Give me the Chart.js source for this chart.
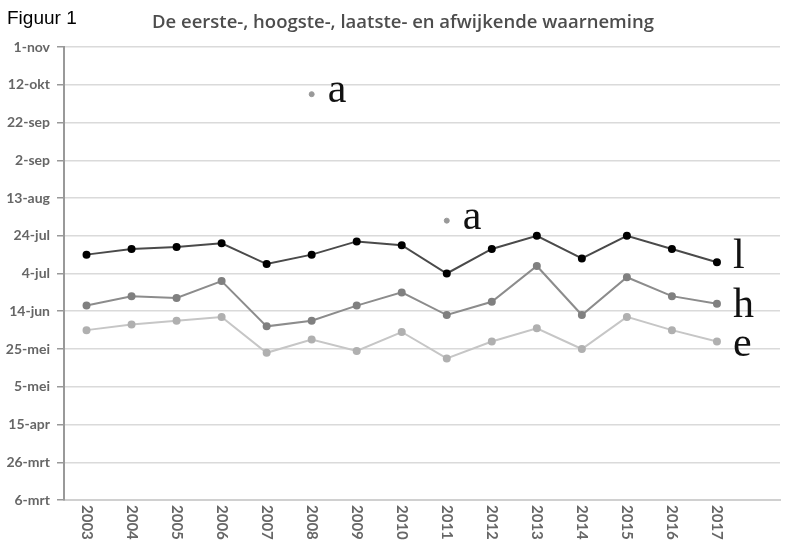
<!DOCTYPE html>
<html>
<head>
<meta charset="utf-8">
<script src="https://cdn.jsdelivr.net/npm/chart.js@4.4.1/dist/chart.umd.min.js"></script>
<style>
  html, body { margin: 0; padding: 0; background: #fff; }
  #wrap { width: 786px; height: 546px; position: relative; }
</style>
</head>
<body>
<div id="wrap"><canvas id="chart"></canvas></div>
<script>
// jaren en waarnemingen (dag van het jaar)
var years = [2003, 2004, 2005, 2006, 2007, 2008, 2009, 2010, 2011, 2012, 2013, 2014, 2015, 2016, 2017];
var laatste = [195, 198, 199, 201, 190, 195, 202, 200, 185, 198, 205, 193, 205, 198, 191];
var hoogste = [168, 173, 172, 181, 157, 160, 168, 175, 163, 170, 189, 163, 183, 173, 169];
var eerste  = [155, 158, 160, 162, 143, 150, 144, 154, 140, 149, 156, 145, 162, 155, 149];
var afwijkendJaren = [2008, 2011];
var afwijkend = [280, 213];

// y-as: dag 65 (6-mrt) t/m 305 (1-nov), stap 20
var yTickLabels = ['6-mrt', '26-mrt', '15-apr', '5-mei', '25-mei', '14-jun', '4-jul',
                   '24-jul', '13-aug', '2-sep', '22-sep', '12-okt', '1-nov'];

function pts(vals, xs) {
  return vals.map(function(v, i){ return {x: xs[i], y: v}; });
}

// tekst: titel, x-labels en letters bij de lijnen
var extras = {
  id: 'extras',
  afterDraw: function(chart) {
    var ctx = chart.ctx;
    var xs = chart.scales.x, area = chart.chartArea;
    ctx.save();
    ctx.fillStyle = '#000';
    ctx.font = '19px "Liberation Sans", Arial, sans-serif';
    ctx.textAlign = 'left';
    ctx.textBaseline = 'alphabetic';
    ctx.fillText('Figuur 1', 7, 24);

    ctx.fillStyle = '#4d4d4d';
    ctx.font = '600 18.5px "Open Sans", sans-serif';
    ctx.fillText('De eerste-, hoogste-, laatste- en afwijkende waarneming', 152, 28);

    // jaartallen, met de klok mee gedraaid
    ctx.fillStyle = '#666';
    ctx.font = 'bold 15px Lato, sans-serif';
    ctx.textBaseline = 'middle';
    years.forEach(function(y){
      ctx.save();
      ctx.translate(xs.getPixelForValue(y), area.bottom + 5);
      ctx.rotate(Math.PI / 2);
      ctx.fillText(String(y), 0, 0);
      ctx.restore();
    });

    // letters rechts naast de punten
    ctx.fillStyle = '#111';
    ctx.font = '42px "Liberation Serif", "Times New Roman", serif';
    ctx.textBaseline = 'alphabetic';
    chart.data.datasets.forEach(function(ds, di){
      if (!ds.tags) return;
      var meta = chart.getDatasetMeta(di);
      ds.tags.forEach(function(t){
        var idx = t.index < 0 ? meta.data.length - 1 : t.index;
        var p = meta.data[idx];
        ctx.fillText(t.text, p.x + 16, p.y + t.dy);
      });
    });
    ctx.restore();
  }
};

new Chart(document.getElementById('chart'), {
  type: 'line',
  data: {
    datasets: [
      {
        label: 'laatste',
        data: pts(laatste, years),
        borderColor: '#4a4a4a', backgroundColor: '#000',
        pointBackgroundColor: '#000', pointBorderColor: '#000',
        borderWidth: 2, pointRadius: 3,
        tags: [{index: -1, text: 'l', dy: 6}]
      },
      {
        label: 'hoogste',
        data: pts(hoogste, years),
        borderColor: '#8c8c8c', backgroundColor: '#808080',
        pointBackgroundColor: '#808080', pointBorderColor: '#808080',
        borderWidth: 2, pointRadius: 3,
        tags: [{index: -1, text: 'h', dy: 13}]
      },
      {
        label: 'eerste',
        data: pts(eerste, years),
        borderColor: '#c6c6c6', backgroundColor: '#b0b0b0',
        pointBackgroundColor: '#b0b0b0', pointBorderColor: '#b0b0b0',
        borderWidth: 2, pointRadius: 3,
        tags: [{index: -1, text: 'e', dy: 15}]
      },
      {
        label: 'afwijkend',
        data: pts(afwijkend, afwijkendJaren),
        showLine: false,
        pointBackgroundColor: '#999', pointBorderColor: '#999',
        pointRadius: 2.5,
        tags: [{index: 0, text: 'a', dy: 8}, {index: 1, text: 'a', dy: 8}]
      }
    ]
  },
  options: {
    responsive: true,
    maintainAspectRatio: false,
    animation: false,
    layout: { padding: { top: 47, right: 0, left: 0, bottom: 0 } },
    plugins: { legend: { display: false }, tooltip: { enabled: false } },
    scales: {
      x: {
        type: 'linear',
        min: 2002.5,
        max: 2018.4,
        grid: { display: false },
        border: { color: '#d0d0d0', width: 2 },
        ticks: { display: false },
        afterFit: function(s){ s.height = 46; }
      },
      y: {
        min: 65,
        max: 305,
        afterBuildTicks: function(s){
          s.ticks = yTickLabels.map(function(l, i){ return {value: 65 + i * 20}; });
        },
        ticks: {
          color: '#666',
          padding: 7,
          font: { family: 'Lato', size: 14, weight: 'bold' },
          callback: function(v){ return yTickLabels[(v - 65) / 20]; }
        },
        grid: { color: '#dadada', lineWidth: 1.5, tickLength: 7, tickColor: '#999' },
        border: { color: '#999', width: 2 },
        afterFit: function(s){ s.width = 64; }
      }
    }
  },
  plugins: [extras]
});
</script>
</body>
</html>
